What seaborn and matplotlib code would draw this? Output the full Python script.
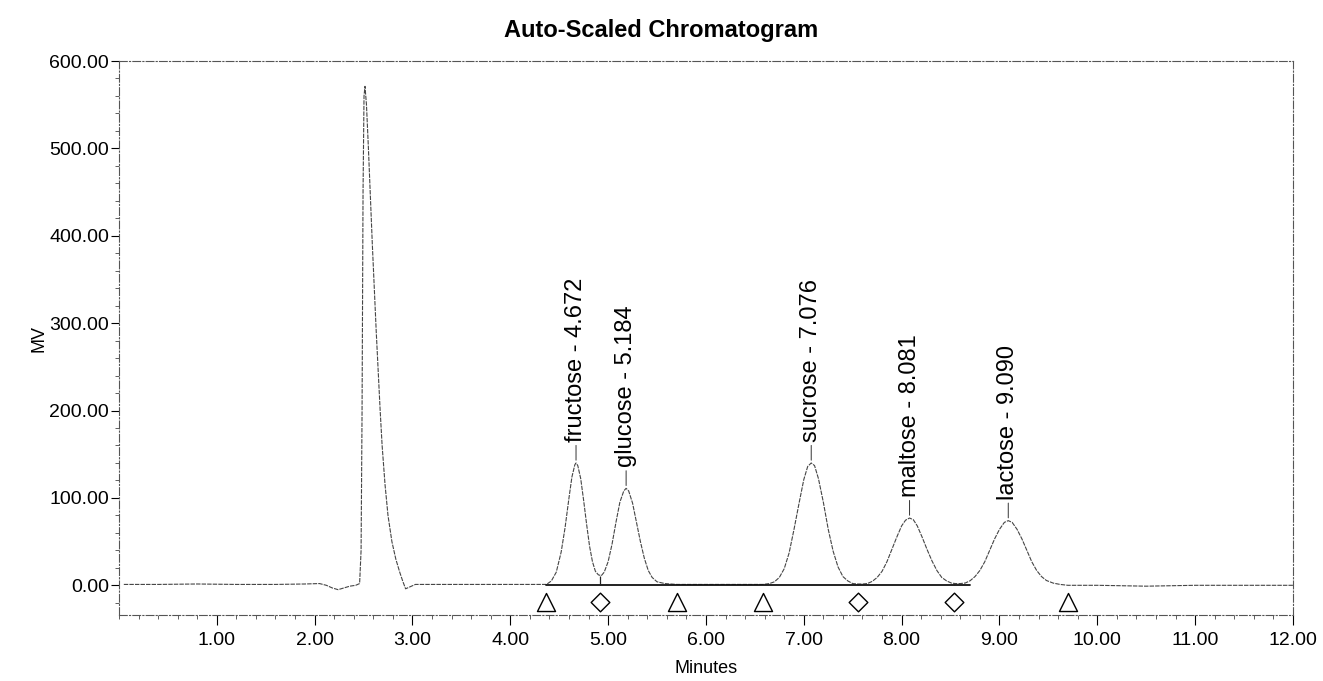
import matplotlib
matplotlib.use("Agg")
import matplotlib.pyplot as plt
from matplotlib.ticker import MultipleLocator, FormatStrFormatter
import pandas as pd
import seaborn as sns

# Detector trace (retention time in minutes, signal in mV)
trace_minutes = [
    0.05, 0.40, 0.80, 1.20, 1.60, 1.90, 2.05, 2.12, 2.18, 2.24, 2.30, 2.36, 2.42,
    2.46, 2.475, 2.485, 2.495, 2.505, 2.515, 2.53, 2.55, 2.57, 2.59, 2.61, 2.63,
    2.65, 2.67, 2.69, 2.72, 2.75, 2.79, 2.83, 2.87, 2.90, 2.93, 2.97, 3.03,
    3.40, 3.80, 4.20,
    4.37, 4.42, 4.47, 4.52, 4.56, 4.60, 4.63, 4.66, 4.672, 4.69, 4.72, 4.75, 4.78,
    4.81, 4.84, 4.87, 4.90, 4.93, 4.96, 5.00, 5.04, 5.08, 5.12, 5.16, 5.184, 5.21,
    5.25, 5.29, 5.33, 5.37, 5.41, 5.45, 5.50, 5.58, 5.70, 6.00, 6.30,
    6.58, 6.65, 6.70, 6.75, 6.80, 6.85, 6.90, 6.95, 7.00, 7.04, 7.076, 7.11, 7.15,
    7.20, 7.25, 7.30, 7.35, 7.40, 7.45, 7.50, 7.55,
    7.60, 7.65, 7.70, 7.75, 7.80, 7.85, 7.90, 7.95, 8.00, 8.04, 8.081, 8.12, 8.16,
    8.21, 8.26, 8.31, 8.36, 8.41, 8.46, 8.51, 8.55,
    8.60, 8.65, 8.70, 8.75, 8.80, 8.85, 8.90, 8.95, 9.00, 9.05, 9.09, 9.13, 9.18,
    9.23, 9.28, 9.33, 9.38, 9.43, 9.48, 9.55, 9.62, 9.70,
    10.0, 10.5, 11.0, 11.5, 12.0,
]
trace_mv = [
    1, 1, 1.5, 1, 1, 1.5, 2, 0, -3, -5, -3, -1, 0,
    2, 40, 200, 450, 560, 571, 550, 500, 445, 390, 340, 290,
    245, 200, 160, 115, 80, 50, 30, 15, 5, -4, -2, 1,
    1, 1, 1,
    1, 5, 15, 38, 66, 100, 124, 138, 140, 137, 122, 97, 70,
    45, 27, 16, 12, 11, 15, 27, 47, 72, 95, 108, 111, 108,
    94, 72, 50, 31, 17, 9, 4, 2, 1, 1, 1,
    1, 2, 4, 9, 19, 37, 64, 93, 121, 136, 140, 137, 122,
    95, 64, 39, 21, 10, 5, 2, 1.5,
    1.5, 2, 4.5, 9, 16, 27, 41, 55, 68, 74.5, 77, 75, 68,
    55, 41, 28, 17, 9, 5, 2.5, 2,
    2, 2.6, 5.2, 10, 17, 27, 40, 53, 64, 72, 74, 72, 64,
    53, 40, 27, 17, 10, 5.5, 2.5, 1, 0,
    0, -1, 0, 0, 0,
]

# Integrated peaks
peak_names = ["fructose", "glucose", "sucrose", "maltose", "lactose"]
peak_rt = [4.672, 5.184, 7.076, 8.081, 9.090]
peak_mv = [140, 111, 140, 77, 74]

# Integration marks: peak start/end and valley drop points
edge_minutes = [4.37, 5.70, 6.58, 9.70]
valley_minutes = [4.92, 7.55, 8.54]
valley_mv = [11, 1.5, 2]
baseline_span = [4.37, 8.70]

sns.set_theme(style="white")
plt.rcParams["font.family"] = ["Liberation Sans", "DejaVu Sans"]
plt.rcParams["text.color"] = "black"
plt.rcParams["axes.labelcolor"] = "black"

fig, ax = plt.subplots(figsize=(13.23, 6.81), dpi=100)
fig.subplots_adjust(left=0.0899, right=0.9773, top=0.9104, bottom=0.0969)

trace = pd.DataFrame({"Minutes": trace_minutes, "MV": trace_mv})
sns.lineplot(data=trace, x="Minutes", y="MV", ax=ax, color="#454545",
             linewidth=0.8, linestyle=(0, (4, 1)), estimator=None, sort=False)

# Baseline and valley drop lines
ax.plot(baseline_span, [0, 0], color="#111111", linewidth=1.3, zorder=3)
ax.vlines(valley_minutes, 0, valley_mv, color="#222222", linewidth=0.9, zorder=3)

marker_y = -19
edges = pd.DataFrame({"t": edge_minutes, "y": [marker_y] * len(edge_minutes)})
valleys = pd.DataFrame({"t": valley_minutes, "y": [marker_y] * len(valley_minutes)})
sns.scatterplot(data=edges, x="t", y="y", ax=ax, marker="^", s=13 ** 2,
                facecolor="white", edgecolor="black", linewidth=1.0, zorder=4)
sns.scatterplot(data=valleys, x="t", y="y", ax=ax, marker="D", s=9.5 ** 2,
                facecolor="white", edgecolor="black", linewidth=1.0, zorder=4)

# Peak labels
for name, rt, mv in zip(peak_names, peak_rt, peak_mv):
    ax.annotate(f"{name} - {rt:.3f}", xy=(rt, mv), xytext=(0, 15),
                textcoords="offset points", rotation=90, ha="center",
                va="bottom", fontsize=17, color="black",
                arrowprops=dict(arrowstyle="-", color="#333333", lw=0.7,
                                shrinkA=0, shrinkB=2))

ax.set_xlim(0, 12)
ax.set_ylim(-34, 600)
ax.xaxis.set_major_locator(MultipleLocator(1))
ax.xaxis.set_minor_locator(MultipleLocator(0.2))
ax.yaxis.set_major_locator(MultipleLocator(100))
ax.yaxis.set_minor_locator(MultipleLocator(20))
ax.xaxis.set_major_formatter(FormatStrFormatter("%.2f"))
ax.yaxis.set_major_formatter(FormatStrFormatter("%.2f"))
ax.set_xticks([t for t in range(1, 13)])

ax.tick_params(axis="x", which="major", direction="out", length=7, width=0.8,
               pad=5, labelsize=14, bottom=True, colors="black")
ax.tick_params(axis="x", which="minor", direction="out", length=3, width=0.6,
               bottom=True, color="#444444")
ax.tick_params(axis="y", which="major", direction="out", length=6, width=0.8,
               pad=1, labelsize=14, left=True, colors="black")
ax.tick_params(axis="y", which="minor", direction="out", length=3, width=0.6,
               left=True, color="#444444")

for side in ["left", "right", "top", "bottom"]:
    ax.spines[side].set_visible(True)
    ax.spines[side].set_color("#555555")
    ax.spines[side].set_linewidth(0.8)
    ax.spines[side].set_linestyle((0, (7, 2, 1, 2)))

ax.set_xlabel("Minutes", fontsize=13, color="black")
ax.set_ylabel("MV", fontsize=13, color="black")
ax.xaxis.set_label_coords(0.5, -0.081)
ax.yaxis.set_label_coords(-0.061, 0.5)

fig.text(0.5, 1 - 30 / 681, "Auto-Scaled Chromatogram", ha="center",
         va="center", fontsize=17, fontweight="bold", color="black")

fig.savefig("out.png", dpi=100, facecolor="white")
